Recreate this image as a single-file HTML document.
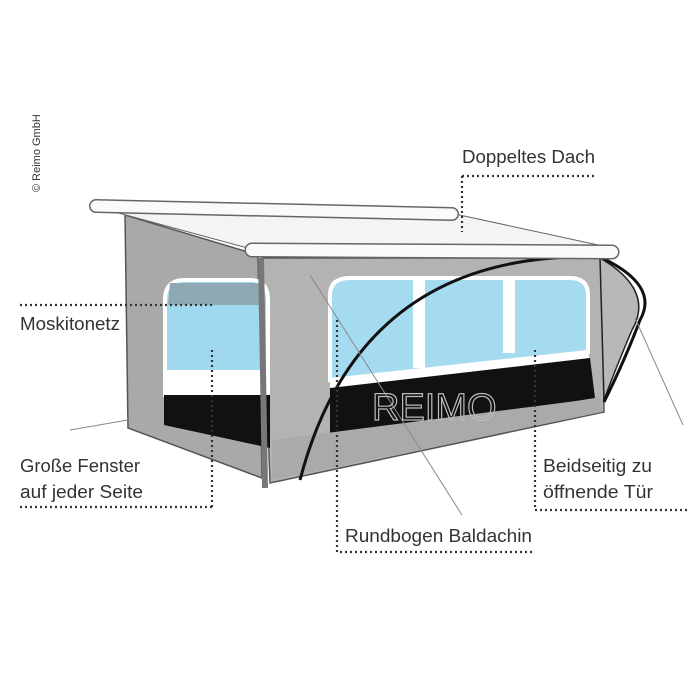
<!DOCTYPE html>
<html><head><style>
html,body{margin:0;padding:0;background:#fff;}
svg{display:block}
text{font-family:"Liberation Sans Narrow","Liberation Sans",sans-serif;fill:#333;}
.d{stroke:#333;stroke-width:2.2;stroke-dasharray:2 3;fill:none}
</style></head><body>
<svg width="700" height="700" viewBox="0 0 700 700">
<!-- left wall -->
<polygon points="125,215 258,255 262,478 128,428" fill="#a9a9a9" stroke="#555" stroke-width="1.5"/>
<!-- front wall -->
<polygon points="262,258 602,258 604,412 270,483" fill="#b3b3b3" stroke="#555" stroke-width="1.5"/>
<!-- roof -->
<polygon points="100,208 455,214 612,248 255,250" fill="#f4f4f4" stroke="#666" stroke-width="1"/>
<!-- left window -->
<path d="M165,395 L165,300 Q165,280 185,280 L250,280 Q268,280 268,300 L268,395 Z" fill="#9fd8ef" stroke="#fff" stroke-width="4"/>
<path d="M170,283 L262,283 L265,305 L168,305 Z" fill="#8fa9b4"/>
<rect x="164" y="370" width="105" height="25" fill="#fff"/>
<polygon points="164,395 270,395 270,448 164,425" fill="#111"/>
<!-- front windows -->
<path d="M330,380 L330,295 Q330,278 350,278 L570,278 Q588,278 588,295 L588,352 Z" fill="#a5dbf0" stroke="#fff" stroke-width="4"/>
<rect x="413" y="278" width="12" height="90" fill="#fff"/>
<rect x="503" y="278" width="12" height="75" fill="#fff"/>
<polygon points="330,380 588,350 590,362 330,390" fill="#fff"/>
<polygon points="330,388 590,358 595,398 330,440" fill="#111"/>
<polygon points="272,440 600,398 602,412 272,480" fill="#aaa"/>
<!-- bulge door -->
<path d="M600,258 Q655,290 632,330 Q615,370 604,400 Z" fill="#b8b8b8" stroke="#222" stroke-width="1.5"/>
<!-- arc -->
<path d="M300,480 Q360,250 600,257 Q660,285 640,320 Q625,360 604,402" fill="none" stroke="#111" stroke-width="3"/>
<!-- rails -->
<line x1="96" y1="206" x2="452" y2="214" stroke="#666" stroke-width="14" stroke-linecap="round"/>
<line x1="96" y1="206" x2="452" y2="214" stroke="#fafafa" stroke-width="11" stroke-linecap="round"/>
<line x1="252" y1="250" x2="612" y2="252" stroke="#666" stroke-width="15" stroke-linecap="round"/>
<line x1="252" y1="250" x2="612" y2="252" stroke="#fafafa" stroke-width="12" stroke-linecap="round"/>
<!-- pole -->
<line x1="261" y1="258" x2="265" y2="488" stroke="#777" stroke-width="6"/>
<!-- guy ropes -->
<line x1="310" y1="275" x2="462" y2="515" stroke="#888" stroke-width="1"/>
<line x1="635" y1="318" x2="683" y2="425" stroke="#888" stroke-width="1"/>
<line x1="70" y1="430" x2="128" y2="420" stroke="#888" stroke-width="1"/>
<text x="372" y="420" font-size="38" fill="none" stroke="#bbb" stroke-width="1.2" style="fill:none">REIMO</text>
<!-- labels & dotted leaders -->
<text x="462" y="163" font-size="18" textLength="133" lengthAdjust="spacingAndGlyphs">Doppeltes Dach</text>
<path class="d" d="M462,176 H596 M462,176 V232"/>
<text x="20" y="330" font-size="18" textLength="100" lengthAdjust="spacingAndGlyphs">Moskitonetz</text>
<path class="d" d="M20,305 H212"/>
<text x="20" y="472" font-size="18" textLength="120" lengthAdjust="spacingAndGlyphs">Große Fenster</text>
<text x="20" y="498" font-size="18" textLength="123" lengthAdjust="spacingAndGlyphs">auf jeder Seite</text>
<path class="d" d="M20,507 H212 M212,350 V507"/>
<text x="345" y="542" font-size="18" textLength="187" lengthAdjust="spacingAndGlyphs">Rundbogen Baldachin</text>
<path class="d" d="M337,320 V552 H532"/>
<text x="543" y="472" font-size="18" textLength="109" lengthAdjust="spacingAndGlyphs">Beidseitig zu</text>
<text x="543" y="498" font-size="18" textLength="110" lengthAdjust="spacingAndGlyphs">öffnende Tür</text>
<path class="d" d="M535,350 V510 H690"/>
<text transform="translate(40,192) rotate(-90)" font-size="11" style="font-family:'Liberation Sans',sans-serif">© Reimo GmbH</text>
</svg>
</body></html>
